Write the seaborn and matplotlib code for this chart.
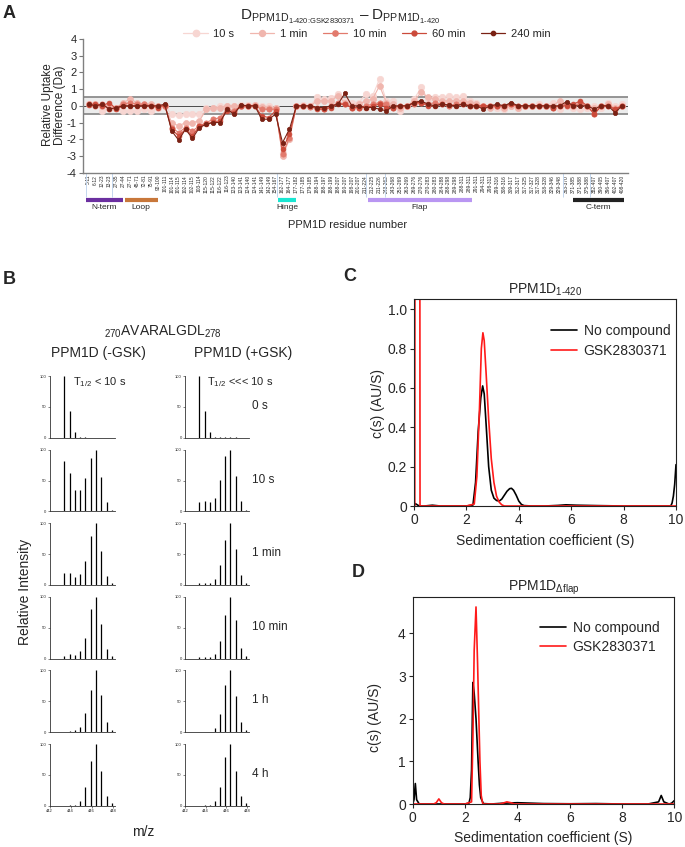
import numpy as np
import pandas as pd
import matplotlib
matplotlib.use('Agg')
import matplotlib.pyplot as plt
import matplotlib.transforms as mtransforms
from matplotlib.lines import Line2D
import seaborn as sns

sns.set_theme(style='ticks')
plt.rcParams['font.family'] = ['Liberation Sans', 'DejaVu Sans']
plt.rcParams['mathtext.fontset'] = 'custom'
plt.rcParams['mathtext.rm'] = 'Liberation Sans'
plt.rcParams['mathtext.it'] = 'Liberation Sans:italic'
plt.rcParams['mathtext.bf'] = 'Liberation Sans:bold'
plt.rcParams['axes.unicode_minus'] = False

# ---------------- Panel A : HDX difference per peptide ----------------
peptides = ['5-11', '6-12', '12-23', '13-23', '27-35', '27-44', '27-71', '45-71', '72-81', '75-91',
            '92-100', '101-111', '101-114', '101-115', '102-114', '102-115', '103-114', '115-120',
            '115-122', '116-122', '116-123', '123-140', '123-141', '124-140', '124-141', '141-149',
            '142-149', '154-167', '162-177', '164-177', '177-182', '177-185', '179-185', '188-194',
            '188-197', '188-199', '188-207', '190-207', '198-207', '201-207', '211-224', '212-225',
            '211-226', '243-262', '243-268', '251-269', '263-269', '269-276', '270-276', '270-283',
            '280-283', '284-288', '288-298', '289-298', '288-311', '289-311', '291-311', '294-311',
            '298-311', '299-316', '308-316', '309-317', '312-317', '317-325', '317-327', '317-328',
            '318-328', '329-346', '329-348', '363-370', '371-385', '371-388', '375-388', '382-407',
            '390-405', '396-407', '402-407', '408-420']

diff_10s = [0.1, 0.1, -0.3, -0.1, -0.1, -0.3, -0.3, -0.3, -0.2, -0.3,
            -0.1, 0.0, -0.5, -0.55, -0.5, -0.5, -0.5, -0.1, -0.1, 0.0,
            0.0, 0.0, 0.05, 0.05, 0.05, 0.0, 0.0, -0.1, -2.8, -2.0,
            0.0, 0.05, 0.0, 0.5, 0.4, 0.45, 0.7, 0.3, 0.2, 0.2,
            0.7, 0.6, 1.6, 0.3, 0.3, -0.3, 0.0, 0.4, 1.1, 0.4,
            0.5, 0.5, 0.6, 0.5, 0.6, 0.3, 0.2, 0.0, 0.0, -0.1,
            -0.2, 0.0, -0.1, 0.0, 0.0, 0.1, 0.0, 0.2, -0.2, 0.0,
            -0.1, -0.2, -0.1, 0.0, -0.1, 0.2, 0.0, 0.1]
diff_1min = [0.1, 0.1, 0.0, 0.0, -0.1, 0.2, 0.4, 0.2, 0.1, 0.1,
             0.0, 0.0, -1.0, -1.2, -1.0, -1.0, -0.9, -0.2, -0.1, -0.1,
             0.0, 0.0, 0.0, 0.0, 0.05, -0.05, -0.1, -0.1, -3.0, -2.0,
             0.0, 0.0, 0.0, 0.3, 0.3, 0.3, 0.6, 0.2, 0.0, 0.1,
             0.3, 0.4, 1.2, 0.2, 0.1, -0.1, 0.0, 0.3, 0.8, 0.5,
             0.4, 0.3, 0.3, 0.3, 0.3, 0.2, 0.1, 0.0, -0.1, 0.0,
             -0.1, 0.0, -0.1, 0.0, 0.0, 0.0, 0.0, 0.0, 0.3, 0.1,
             0.0, 0.2, 0.0, -0.1, 0.0, 0.1, -0.1, 0.0]
diff_10min = [0.1, 0.0, 0.1, -0.2, -0.1, 0.1, 0.2, 0.1, 0.1, 0.0,
              0.0, 0.0, -1.3, -1.6, -1.3, -1.5, -1.2, -1.0, -0.8, -0.7,
              -0.2, -0.3, 0.0, 0.0, 0.0, -0.2, -0.2, -0.2, -2.9, -1.9,
              0.0, 0.0, -0.05, -0.1, -0.2, 0.0, 0.15, 0.1, -0.1, -0.1,
              0.0, 0.1, 0.2, 0.1, -0.1, 0.0, 0.0, 0.1, 0.2, 0.1,
              0.2, 0.1, 0.0, 0.1, 0.1, 0.0, 0.0, 0.0, 0.0, 0.0,
              0.0, 0.1, 0.0, 0.0, 0.0, 0.0, 0.0, -0.1, 0.0, 0.1,
              0.0, 0.1, 0.0, -0.5, 0.0, 0.0, -0.2, 0.0]
diff_60min = [0.05, 0.1, 0.0, 0.2, -0.2, 0.0, 0.0, 0.0, 0.0, 0.0,
              -0.1, 0.05, -1.4, -1.8, -1.4, -1.8, -1.2, -1.1, -0.95, -0.9,
              -0.3, -0.4, 0.0, 0.0, 0.0, -0.6, -0.7, -0.3, -2.6, -1.7,
              0.0, 0.0, 0.0, -0.2, -0.2, -0.1, 0.1, 0.1, -0.1, -0.1,
              -0.1, 0.0, 0.1, -0.1, -0.1, 0.0, 0.0, 0.2, 0.2, 0.0,
              0.0, 0.1, 0.05, 0.0, 0.1, 0.0, 0.0, 0.0, 0.0, 0.0,
              0.0, 0.1, 0.0, 0.0, 0.0, 0.0, 0.0, -0.1, 0.0, 0.0,
              0.1, 0.3, 0.0, -0.5, 0.0, 0.0, -0.2, 0.0]
diff_240min = [0.1, 0.0, 0.1, -0.2, -0.1, 0.0, 0.0, 0.0, 0.0, 0.0,
               0.0, 0.1, -1.5, -2.05, -1.4, -1.95, -1.3, -1.1, -1.0, -1.0,
               -0.2, -0.5, 0.05, 0.0, 0.0, -0.8, -0.8, -0.5, -2.2, -1.4,
               0.0, 0.0, 0.0, -0.1, -0.1, 0.0, 0.1, 0.75, 0.0, 0.0,
               -0.1, -0.1, -0.2, -0.3, 0.0, 0.0, 0.0, 0.2, 0.3, 0.1,
               0.0, 0.1, 0.05, 0.0, 0.1, 0.0, 0.0, -0.2, 0.0, 0.1,
               0.0, 0.2, 0.0, 0.0, 0.0, 0.0, 0.0, 0.0, 0.0, 0.25,
               0.0, 0.0, 0.0, -0.2, 0.0, 0.0, -0.4, 0.0]

time_points = ['10 s', '1 min', '10 min', '60 min', '240 min']
time_colors = ['#f7d6d2', '#f0b6ae', '#e27a6d', '#cb4a3a', '#7a2114']

regions = ['N-term', 'Loop', 'Hinge', 'Flap', 'C-term']
region_start = [-0.4, 5.2, 27.4, 40.3, 69.9]
region_end = [5.0, 10.0, 30.0, 55.4, 77.3]
region_colors = ['#6b2fa0', '#c8773a', '#19e6d2', '#b996f2', '#222222']
boundaries = [-0.4, 3.4, 27.2, 40.1, 42.8, 68.5, 72.4]

# ---------------- Panel B : isotope envelopes ----------------
mz = [443.4, 443.9, 444.4, 444.9, 445.4, 445.9, 446.4, 446.9, 447.4, 447.9]
exchange_times = ['0 s', '10 s', '1 min', '10 min', '1 h', '4 h']
minus_gsk = [[100, 43, 10, 2, 0.5, 0, 0, 0, 0, 0],
             [81, 62, 35, 34, 54, 86, 100, 56, 16, 3],
             [19, 19, 13, 17, 39, 80, 100, 55, 15, 3],
             [5, 7, 6, 12, 34, 81, 100, 56, 16, 4],
             [1, 2, 3, 9, 31, 69, 100, 60, 17, 4],
             [0, 1, 1, 7, 30, 73, 100, 57, 16, 4]]
plus_gsk = [[100, 44, 10, 2, 1, 1, 1, 1, 0, 0],
            [15, 17, 15, 21, 51, 89, 100, 58, 17, 3],
            [4, 4, 4, 10, 32, 73, 100, 59, 16, 3],
            [2, 2, 3, 8, 29, 70, 100, 62, 17, 4],
            [0.5, 1, 1, 7, 30, 76, 100, 58, 17, 4],
            [0, 0.5, 1, 7, 30, 79, 100, 57, 16, 4]]

# ---------------- Panels C / D : c(s) distributions ----------------
s_c_black = [0, 0.05, 0.1, 0.2, 0.4, 0.7, 1.0, 1.5, 2.0, 2.25, 2.35, 2.45, 2.55, 2.62, 2.68,
             2.75, 2.85, 2.95, 3.05, 3.15, 3.25, 3.35, 3.45, 3.55, 3.65, 3.72, 3.8, 3.9, 4.0,
             4.1, 4.2, 4.5, 5.0, 5.5, 5.8, 6.2, 7.0, 8.0, 9.0, 9.8, 9.85, 9.9, 9.95, 10.0]
c_c_black = [0, 0.012, 0.008, 0, 0, 0.004, 0, 0, 0, 0.005, 0.12, 0.38, 0.55, 0.61, 0.57,
             0.42, 0.2, 0.08, 0.04, 0.028, 0.025, 0.035, 0.055, 0.075, 0.088, 0.09, 0.08, 0.055, 0.025,
             0.008, 0.002, 0, 0, 0.003, 0.006, 0.004, 0.002, 0, 0, 0, 0.015, 0.05, 0.11, 0.21]
s_c_red = [0, 0.03, 0.13, 0.23, 0.3, 1.0, 2.0, 2.3, 2.4, 2.5, 2.57, 2.63, 2.68, 2.75, 2.85,
           2.95, 3.05, 3.15, 3.25, 3.35, 3.45, 4.0, 6.0, 8.0, 10.0]
c_c_red = [0, 0, 20, 0, 0, 0, 0, 0.01, 0.15, 0.5, 0.8, 0.88, 0.84, 0.68, 0.44,
           0.24, 0.12, 0.05, 0.02, 0.006, 0, 0, 0, 0, 0]

s_d_black = [0, 0.05, 0.1, 0.15, 0.25, 0.5, 1.0, 1.5, 2.0, 2.15, 2.2, 2.25, 2.3, 2.35, 2.42,
             2.5, 2.55, 2.6, 2.7, 3.0, 3.5, 4.0, 4.5, 5.0, 6.0, 7.0, 8.0, 9.0, 9.4, 9.5,
             9.6, 9.8, 9.9, 10.0]
c_d_black = [0, 0.1, 0.48, 0.1, 0, 0, 0, 0, 0, 0.02, 0.15, 0.8, 2.85, 2.6, 2.0,
             1.0, 0.45, 0.15, 0.01, 0, 0.02, 0.03, 0.02, 0.01, 0.005, 0.01, 0, 0, 0.05, 0.2,
             0.05, 0, 0.02, 0.08]
s_d_red = [0, 0.8, 0.9, 1.0, 1.1, 1.2, 2.0, 2.25, 2.3, 2.35, 2.42, 2.48, 2.53, 2.57, 2.62,
           2.68, 3.3, 3.45, 3.6, 3.75, 3.9, 5.0, 7.0, 10.0]
c_d_red = [0, 0, 0.03, 0.12, 0.03, 0, 0, 0.05, 1.5, 3.6, 4.62, 3.3, 2.0, 1.0, 0.2,
           0, 0, 0.02, 0.05, 0.03, 0, 0, 0, 0]

W, H = 685, 847
fig = plt.figure(figsize=(W / 100, H / 100), dpi=100)


def ax_px(left, top, right, bottom):
    # axes placed by pixel box
    return fig.add_axes([left / W, 1 - bottom / H, (right - left) / W, (bottom - top) / H])


def ftext(x, y, s, **kw):
    kw.setdefault('ha', 'center')
    kw.setdefault('va', 'center')
    return fig.text(x / W, 1 - y / H, s, **kw)


# ---------- A ----------
axA = ax_px(83, 39, 628, 172.7)
axA.axhspan(-0.5, 0.5, color='#ececec', lw=0, zorder=0)
for yv in (-0.5, 0.5):
    axA.axhline(yv, color='#8c8c8c', lw=1.3, zorder=1)
axA.axhline(0, color='#4a4a4a', lw=0.7, zorder=1)

x = np.arange(len(peptides))
series = [diff_10s, diff_1min, diff_10min, diff_60min, diff_240min]
msizes = [4.6, 4.3, 3.8, 3.5, 3.1]
for i, (vals, col, ms) in enumerate(zip(series, time_colors, msizes)):
    sns.lineplot(x=x, y=vals, ax=axA, color=col, marker='o', markersize=ms,
                 markeredgecolor=col, markeredgewidth=0.5, lw=0.8,
                 estimator=None, sort=False, legend=False, zorder=2 + i)

axA.set_xlim(-0.8, 77.87)
axA.set_ylim(-4, 4)
axA.set_yticks(range(-4, 5))
axA.set_xticks(x)
axA.set_xticklabels(peptides, rotation=90, fontsize=3.5)
axA.tick_params(axis='x', length=0, pad=1.5)
axA.tick_params(axis='y', labelsize=8, length=3, width=0.8, color='#777777', pad=1.5)
sns.despine(ax=axA)
for sp in ('left', 'bottom'):
    axA.spines[sp].set_color('#808080')
    axA.spines[sp].set_linewidth(1.0)
axA.set_xlabel('')
axA.set_ylabel('')

trans = mtransforms.blended_transform_factory(axA.transData, axA.transAxes)
axA.vlines(boundaries, -0.18, 0, transform=trans, color='#c3d6ee', lw=0.7, clip_on=False)
for name, s0, s1, col in zip(regions, region_start, region_end, region_colors):
    axA.plot([s0, s1], [-0.205, -0.205], transform=trans, color=col, lw=3.0,
             solid_capstyle='butt', clip_on=False)
    axA.text((s0 + s1) / 2, -0.262, name, transform=trans, ha='center', va='center', fontsize=6)

ftext(348, 225, 'PPM1D residue number', fontsize=8)
ftext(54, 105, 'Relative Uptake\nDifference (Da)', fontsize=8.5, rotation=90, linespacing=1.05)
ftext(340, 17, r'D$_{\mathrm{PPM1D}_{\text{1-420:GSK2830371}}}$ – D$_{\mathrm{PPM1D}_{\text{1-420}}}$',
      fontsize=11)
handles = [Line2D([], [], color=c, marker='o', markersize=m, markeredgecolor=c, lw=0.9)
           for c, m in zip(time_colors, msizes)]
fig.legend(handles, time_points, loc='center', bbox_to_anchor=(367 / W, 1 - 34 / H), ncol=5,
           frameon=False, fontsize=8, handlelength=2.2, columnspacing=1.4, handletextpad=0.5)

# ---------- B ----------
row_top, row_pitch, row_h = 376, 73.6, 61.8
col_box = [(49.5, 115), (185, 249)]
for r in range(len(exchange_times)):
    top = row_top + r * row_pitch
    for c, data in enumerate((minus_gsk, plus_gsk)):
        l, rr = col_box[c]
        ax = ax_px(l, top, rr, top + row_h)
        ax.vlines(mz, 0, data[r], color='black', lw=0.9)
        ax.set_xlim(442, 448.2)
        ax.set_ylim(0, 100)
        ax.set_yticks([0, 50, 100])
        ax.tick_params(labelsize=3, length=1.5, width=0.4, pad=0.8)
        sns.despine(ax=ax)
        for sp in ('left', 'bottom'):
            ax.spines[sp].set_linewidth(0.6)
            ax.spines[sp].set_color('#333333')
        if r < len(exchange_times) - 1:
            ax.set_xticks([])
        else:
            ax.set_xticks([442, 444, 446, 448])
    ftext(252, top + 30, exchange_times[r], fontsize=8.5, ha='left')

ftext(163, 332, r'$_{270}$AVARALGDL$_{278}$', fontsize=10)
ftext(98, 353, 'PPM1D (-GSK)', fontsize=10)
ftext(243, 353, 'PPM1D (+GSK)', fontsize=10)
ftext(73, 382, r'T$_{1/2}$ < 10 s', fontsize=8, ha='left')
ftext(207, 382, r'T$_{1/2}$ <<< 10 s', fontsize=8, ha='left')
ftext(25, 592, 'Relative Intensity', fontsize=10, rotation=90)
ftext(143, 832, 'm/z', fontsize=10)


# ---------- C / D ----------
def sed_panel(box, sb, cb, sr, cr, ymax, yticks, yticklabels, title, leg_xy, ylab_xy, xlab_y):
    ax = ax_px(*box)
    sns.lineplot(x=sb, y=cb, ax=ax, color='black', lw=1.2, estimator=None, sort=False, legend=False)
    sns.lineplot(x=sr, y=cr, ax=ax, color='#ff1a1a', lw=1.2, estimator=None, sort=False, legend=False)
    ax.set_xlim(0, 10)
    ax.set_ylim(0, ymax)
    ax.set_xticks([0, 2, 4, 6, 8, 10])
    ax.set_yticks(yticks)
    ax.set_yticklabels(yticklabels)
    ax.tick_params(labelsize=10, length=3, width=0.8, pad=2)
    for sp in ax.spines.values():
        sp.set_linewidth(0.8)
        sp.set_color('#222222')
    ax.set_xlabel('')
    ax.set_ylabel('')
    ax.set_title(title, fontsize=10, pad=4)
    hs = [Line2D([], [], color='black', lw=1.2), Line2D([], [], color='#ff1a1a', lw=1.2)]
    fig.legend(hs, ['No compound', 'GSK2830371'], loc='upper left',
               bbox_to_anchor=(leg_xy[0] / W, 1 - leg_xy[1] / H), frameon=False, fontsize=10,
               handlelength=1.9, handletextpad=0.45, borderpad=0, borderaxespad=0, labelspacing=0.4)
    ftext(ylab_xy[0], ylab_xy[1], 'c(s) (AU/S)', fontsize=10, rotation=90)
    ftext((box[0] + box[2]) / 2, xlab_y, 'Sedimentation coefficient (S)', fontsize=10)
    return ax


sed_panel((414, 299.3, 676, 506), s_c_black, c_c_black, s_c_red, c_c_red, 1.05,
          [0, 0.2, 0.4, 0.6, 0.8, 1.0], ['0', '0.2', '0.4', '0.6', '0.8', '1.0'],
          r'PPM1D$_{\text{1-420}}$', (551, 324), (378, 403), 541.5)
sed_panel((412.7, 596.7, 674.3, 804), s_d_black, c_d_black, s_d_red, c_d_red, 4.86,
          [0, 1, 2, 3, 4], ['0', '1', '2', '3', '4'],
          r'PPM1D$_{\Delta\mathrm{flap}}$', (540, 620.5), (375, 717), 838)

# panel letters
ftext(3, 5, 'A', fontsize=13, fontweight='bold', ha='left', va='top')
ftext(3, 271, 'B', fontsize=13, fontweight='bold', ha='left', va='top')
ftext(343, 268, 'C', fontsize=13, fontweight='bold', ha='left', va='top')
ftext(352, 564, 'D', fontsize=13, fontweight='bold', ha='left', va='top')

fig.savefig('out.png', dpi=100)
plt.close(fig)
